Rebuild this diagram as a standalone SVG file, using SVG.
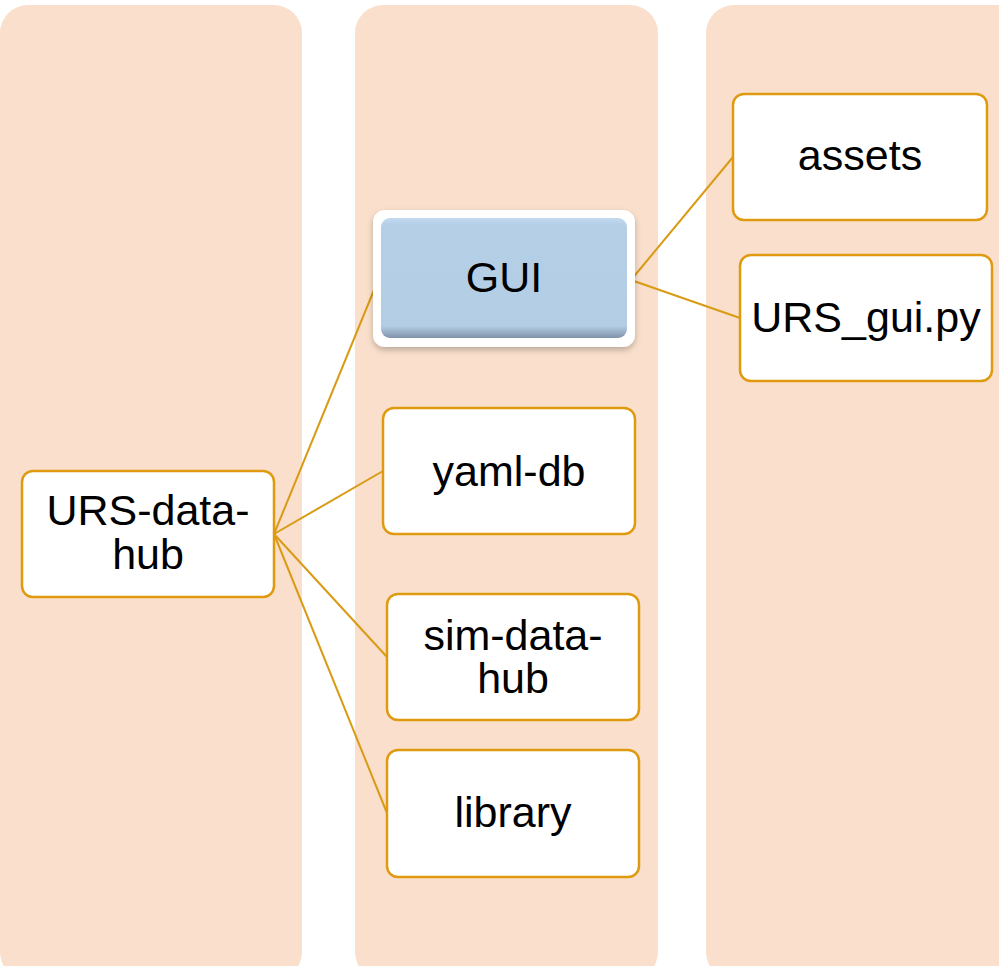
<svg xmlns="http://www.w3.org/2000/svg" width="999" height="966" viewBox="0 0 999 966">
  <style>
    .col { fill: #FAE0CC; }
    .box { fill: #FFFFFF; stroke: #E09A10; stroke-width: 2.5; }
    .lbl { font-family: "Liberation Sans", Arial, sans-serif; font-size: 43px; fill: #000; text-anchor: middle; }
    .link { stroke: #D99A14; stroke-width: 2; fill: none; }
  </style>
  <defs>
    <linearGradient id="guiFill" x1="0" y1="0" x2="0" y2="1">
      <stop offset="0" stop-color="#C3D9F0"/>
      <stop offset="0.06" stop-color="#B5CFE7"/>
      <stop offset="0.9" stop-color="#B3CDE5"/>
      <stop offset="1" stop-color="#7F93A8"/>
    </linearGradient>
    <filter id="shadow" x="-10%" y="-10%" width="120%" height="130%">
      <feDropShadow dx="0" dy="3" stdDeviation="3" flood-color="#000" flood-opacity="0.25"/>
    </filter>
  </defs>

  <!-- column backgrounds -->
  <g id="columns">
    <rect class="col" x="0" y="5" width="302" height="975" rx="28"/>
    <rect class="col" x="355" y="5" width="303" height="975" rx="28"/>
    <rect class="col" x="706" y="5" width="320" height="975" rx="28"/>
  </g>

  <!-- connectors -->
  <g id="connectors">
    <path class="link" d="M274,534 L374,290"/>
    <path class="link" d="M274,534 L383,471"/>
    <path class="link" d="M274,534 L387,657"/>
    <path class="link" d="M274,534 L387,813"/>
    <path class="link" d="M631,280 L733,157"/>
    <path class="link" d="M631,280 L740,318"/>
  </g>

  <g id="urs-data-hub">
    <rect class="box" x="22" y="471" width="252" height="126" rx="11"/>
    <text class="lbl" x="148" y="525">URS-data-</text>
    <text class="lbl" x="148" y="569">hub</text>
  </g>

  <g id="gui">
    <rect x="373" y="210" width="262" height="137" rx="12" fill="#FFFFFF" filter="url(#shadow)"/>
    <rect x="381" y="218" width="246" height="120" rx="9" fill="url(#guiFill)"/>
    <text class="lbl" x="504" y="292">GUI</text>
  </g>

  <g id="yaml-db">
    <rect class="box" x="383" y="408" width="252" height="126" rx="11"/>
    <text class="lbl" x="509" y="486">yaml-db</text>
  </g>

  <g id="sim-data-hub">
    <rect class="box" x="387" y="594" width="252" height="126" rx="11"/>
    <text class="lbl" x="513" y="650">sim-data-</text>
    <text class="lbl" x="513" y="693">hub</text>
  </g>

  <g id="library">
    <rect class="box" x="387" y="750" width="252" height="127" rx="11"/>
    <text class="lbl" x="513" y="827">library</text>
  </g>

  <g id="assets">
    <rect class="box" x="733" y="94" width="254" height="126" rx="11"/>
    <text class="lbl" x="860" y="170">assets</text>
  </g>

  <g id="urs-gui-py">
    <rect class="box" x="740" y="255" width="252" height="126" rx="11"/>
    <text class="lbl" x="866" y="332">URS_gui.py</text>
  </g>
</svg>
